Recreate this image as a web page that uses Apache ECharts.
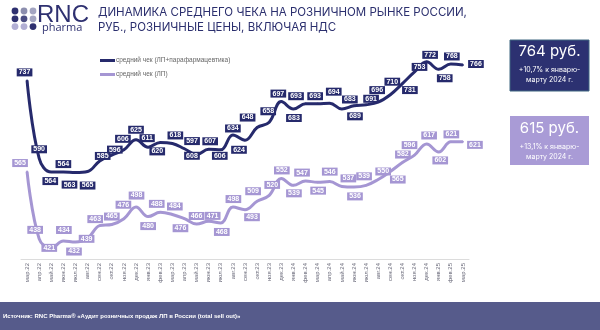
<!DOCTYPE html>
<html>
<head>
<meta charset="utf-8">
<script src="https://cdn.jsdelivr.net/npm/echarts@6/dist/echarts.min.js"></script>
<style>
html,body{margin:0;padding:0;background:#fff;}
#chart{width:600px;height:330px;}
</style>
</head>
<body>
<div id="chart"></div>
<script>
const categories = ['мар.22','апр.22','май.22','июн.22','июл.22','авг.22','сен.22','окт.22','ноя.22','дек.22','янв.23','фев.23','мар.23','апр.23','май.23','июн.23','июл.23','авг.23','сен.23','окт.23','ноя.23','дек.23','янв.24','фев.24','мар.24','апр.24','май.24','июн.24','июл.24','авг.24','сен.24','окт.24','ноя.24','дек.24','янв.25','фев.25','мар.25'];
const seriesNames = ['средний чек (ЛП+парафармацевтика)', 'средний чек (ЛП)'];
const checkTotal = [737,590,564,564,563,565,585,596,606,625,611,620,618,608,597,607,606,634,624,648,658,697,683,693,693,694,683,689,691,696,710,731,753,772,758,768,766];
const checkDrugs = [565,438,421,434,432,439,463,465,476,498,480,488,484,476,466,471,468,498,493,509,520,552,539,547,545,546,537,536,539,550,565,582,596,617,602,621,621];
const boxValues = ['764 руб.', '615 руб.'];
const boxNotes = [['+10,7% к январю-', 'марту 2024 г.'], ['+13,1% к январю-', 'марту 2024 г.']];
const titleLines = ['ДИНАМИКА СРЕДНЕГО ЧЕКА НА РОЗНИЧНОМ РЫНКЕ РОССИИ,', 'РУБ., РОЗНИЧНЫЕ ЦЕНЫ, ВКЛЮЧАЯ НДС'];
const sourceText = 'Источник: RNC Pharma® «Аудит розничных продаж ЛП в России (total sell out)»';

// label placement (style only)
const totalLabelOffsets = [[-2.5,-8],[0,-9],[-1,9],[0,-8],[-6,12],[0,14],[3,-5],[3,-5.5],[-1,-11],[0,-10],
[-1,-9],[-3,9],[3,-8],[7.5,7],[-4.5,-13.5],[1.5,-8],[-1,6],[0,-6.5],[-6,9.5],[-9.5,-10],
[-1,-11],[-3,-8],[0.5,9],[-9.5,-7.5],[-2.5,-7.5],[4,-11.5],[8,-9.5],[1,10.5],[5,-6],[-1,-12],
[2,-13],[7.5,6.5],[5,-5],[3.5,-7],[6,9],[1,-7.5],[13,-1]];
const drugsLabelOffsets = [[-7,-8.5],[-4,-9],[-2,0],[0.5,-11],[-1.5,9.5],[-1,0.5],[-4.5,-6.5],[0,-8],[-0.5,-14],[0.5,-11.5],
[0,9.5],[-3.5,-8.5],[2.5,-8],[-4,9.5],[0,-8],[4,-5.5],[1,9],[0.5,-8],[7,7.5],[-4,-10],
[3,-10.5],[0.5,-8],[0.5,8],[-3.5,-8.5],[0.5,8.5],[0,-10],[6.5,-8],[1,9.5],[-2,-9],[5,-8],
[7.5,8],[0.5,-8],[-5,-10],[2.5,-8.5],[1.5,8.5],[0.5,-7.5],[12,3]];

const DARK = '#262a6c';
const LIGHT = '#a596d3';
const SYM = 2;

function withLabels(values, offsets) {
  return values.map((v, i) => ({
    value: v,
    label: { position: [SYM / 2 + offsets[i][0], SYM / 2 + offsets[i][1]] }
  }));
}

function lineSeries(name, values, offsets, color, z) {
  return {
    name: name,
    type: 'line',
    smooth: 0.4,
    z: z,
    symbol: 'circle',
    symbolSize: SYM,
    showSymbol: true,
    itemStyle: { color: color },
    lineStyle: { color: color, width: 3 },
    label: {
      show: true,
      align: 'center',
      verticalAlign: 'middle',
      color: '#fff',
      fontFamily: 'Liberation Sans, Arial, sans-serif',
      fontWeight: 'bold',
      fontSize: 7,
      lineHeight: 7,
      backgroundColor: color,
      padding: [1, 2, 0, 2]
    },
    labelLayout: { hideOverlap: false },
    data: withLabels(values, offsets)
  };
}

const dotColors = [
  ['#2e3070', '#8c8eae', '#a3a5c2'],
  ['#2e3070', '#4a4c82', '#a3a5c2'],
  ['#b2afd4', '#b2afd4', '#2e3070']
];
const dots = [];
dotColors.forEach((row, r) => row.forEach((c, k) => {
  dots.push({ type: 'circle', shape: { cx: 15 + k * 9, cy: 11 + r * 7.8, r: 3.4 }, style: { fill: c } });
}));

const chart = echarts.init(document.getElementById('chart'), null, { renderer: 'canvas' });
chart.setOption({
  backgroundColor: '#ffffff',
  animation: false,
  grid: { left: 21, right: 131, top: 47, bottom: 71 },
  legend: {
    orient: 'vertical',
    left: 100,
    top: 57,
    itemWidth: 15,
    itemHeight: 3,
    itemGap: 7,
    icon: 'rect',
    padding: 0,
    textStyle: { fontSize: 6.5, color: '#666', fontFamily: 'Liberation Sans, Arial, sans-serif', padding: [0, 0, 0, -4] },
    data: seriesNames
  },
  xAxis: {
    type: 'category',
    data: categories,
    boundaryGap: true,
    axisLine: { lineStyle: { color: '#dcdcdc', width: 1 } },
    axisTick: { show: false },
    axisLabel: { rotate: 90, fontSize: 6, color: '#6a6a7a', margin: 4, interval: 0, fontFamily: 'Liberation Sans, Arial, sans-serif' }
  },
  yAxis: { type: 'value', min: 400, max: 800, show: false, splitLine: { show: false } },
  series: [
    lineSeries(seriesNames[1], checkDrugs, drugsLabelOffsets, LIGHT, 2),
    lineSeries(seriesNames[0], checkTotal, totalLabelOffsets, DARK, 3)
  ],
  graphic: [
    ...dots,
    { type: 'text', left: 37, top: 3, style: { text: 'RNC', font: '24px "Liberation Sans", Arial, sans-serif', fill: '#2e3070' } },
    { type: 'text', left: 42, top: 22, style: { text: 'pharma', font: '11px "Open Sans", sans-serif', fill: '#2e3070' } },
    { type: 'text', left: 98, top: 6.5, style: { text: titleLines[0], font: '11.5px Inter, "Noto Sans", sans-serif', fill: '#2b2f6e' } },
    { type: 'text', left: 98, top: 21.5, style: { text: titleLines[1], font: '11.5px Inter, "Noto Sans", sans-serif', fill: '#2b2f6e' } },
    { type: 'rect', shape: { x: 510, y: 40, width: 79, height: 51 }, style: { fill: '#2c3171', stroke: '#3f6780', lineWidth: 1 } },
    { type: 'text', x: 549.5, y: 51, style: { text: boxValues[0], font: '15px Inter, "Noto Sans", sans-serif', fill: '#fff', align: 'center', verticalAlign: 'middle' } },
    { type: 'text', x: 549.5, y: 70, style: { text: boxNotes[0][0], font: '7px Inter, "Noto Sans", sans-serif', fill: '#fff', align: 'center', verticalAlign: 'middle' } },
    { type: 'text', x: 549.5, y: 80, style: { text: boxNotes[0][1], font: '7px Inter, "Noto Sans", sans-serif', fill: '#fff', align: 'center', verticalAlign: 'middle' } },
    { type: 'rect', shape: { x: 510, y: 116, width: 79, height: 49 }, style: { fill: '#a99bd6' } },
    { type: 'text', x: 549.5, y: 128, style: { text: boxValues[1], font: '15px Inter, "Noto Sans", sans-serif', fill: '#fff', align: 'center', verticalAlign: 'middle' } },
    { type: 'text', x: 549.5, y: 147, style: { text: boxNotes[1][0], font: '7px Inter, "Noto Sans", sans-serif', fill: '#fff', align: 'center', verticalAlign: 'middle' } },
    { type: 'text', x: 549.5, y: 157, style: { text: boxNotes[1][1], font: '7px Inter, "Noto Sans", sans-serif', fill: '#fff', align: 'center', verticalAlign: 'middle' } },
    { type: 'rect', shape: { x: 0, y: 302, width: 600, height: 28 }, style: { fill: '#565b8b' } },
    { type: 'text', x: 3, y: 316, style: { text: sourceText, font: 'bold 6px "Liberation Sans", Arial, sans-serif', fill: '#fff', verticalAlign: 'middle' } }
  ]
});
</script>
</body>
</html>
